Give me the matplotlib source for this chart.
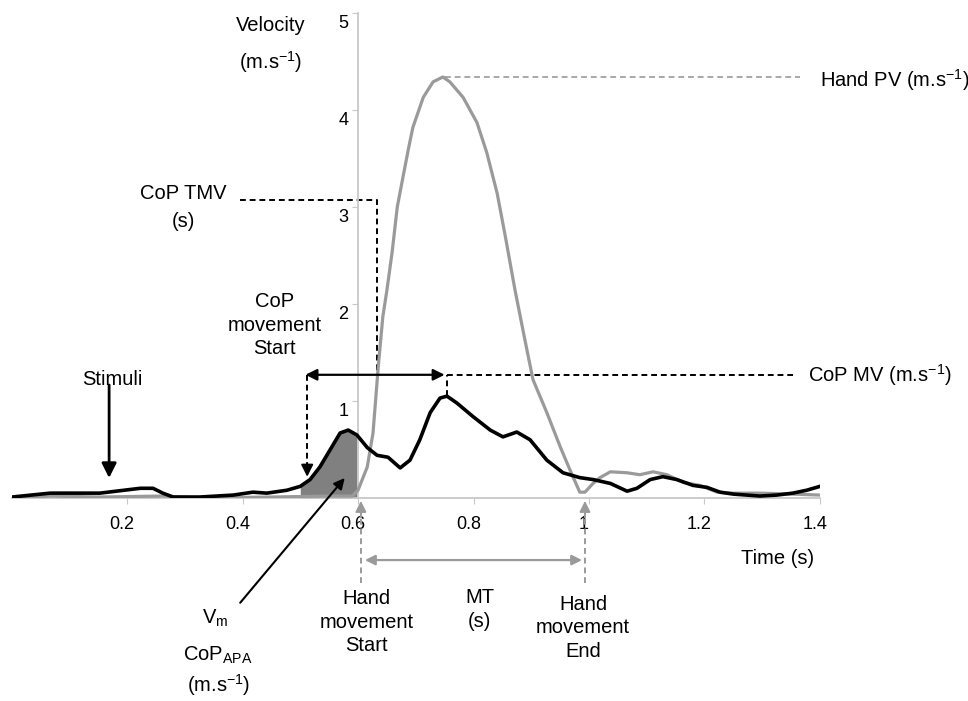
import matplotlib
matplotlib.use('Agg')

import matplotlib.pyplot as plt
from matplotlib.transforms import ScaledTranslation

plt.rcParams['font.family'] = ['Liberation Sans', 'DejaVu Sans']
plt.rcParams['mathtext.default'] = 'regular'

# CoP velocity (black)
cop_t = [0.001, 0.067, 0.153, 0.223, 0.245, 0.262, 0.280, 0.326, 0.384, 0.418,
         0.442, 0.477, 0.500, 0.517, 0.534, 0.551, 0.569, 0.583, 0.598, 0.616,
         0.633, 0.652, 0.673, 0.690, 0.707, 0.725, 0.742, 0.754, 0.771, 0.799,
         0.829, 0.851, 0.875, 0.898, 0.927, 0.955, 0.984, 1.007, 1.037, 1.066,
         1.083, 1.106, 1.128, 1.152, 1.180, 1.204, 1.227, 1.250, 1.296, 1.325,
         1.353, 1.377, 1.400]
cop_v = [0.01, 0.05, 0.05, 0.10, 0.10, 0.05, 0.01, 0.01, 0.03, 0.06,
         0.05, 0.08, 0.12, 0.19, 0.32, 0.49, 0.67, 0.70, 0.65, 0.52,
         0.44, 0.42, 0.31, 0.39, 0.60, 0.88, 1.03, 1.05, 0.98, 0.84,
         0.70, 0.63, 0.68, 0.60, 0.39, 0.26, 0.21, 0.19, 0.15, 0.07,
         0.10, 0.19, 0.22, 0.19, 0.13, 0.11, 0.06, 0.04, 0.02, 0.03,
         0.05, 0.08, 0.12]

# hand velocity (grey)
hand_t = [0.001, 0.067, 0.153, 0.260, 0.330, 0.450, 0.550, 0.590, 0.600, 0.616,
          0.626, 0.635, 0.643, 0.650, 0.659, 0.668, 0.676, 0.687, 0.695, 0.713,
          0.730, 0.747, 0.759, 0.782, 0.806, 0.823, 0.841, 0.855, 0.872, 0.889,
          0.903, 0.927, 0.950, 0.967, 0.984, 0.993, 1.007, 1.019, 1.037, 1.066,
          1.088, 1.111, 1.135, 1.163, 1.192, 1.222, 1.250, 1.296, 1.353, 1.400]
hand_v = [0.00, 0.02, 0.01, 0.02, 0.00, 0.01, 0.02, 0.02, 0.08, 0.32,
          0.67, 1.35, 1.87, 2.14, 2.53, 3.00, 3.25, 3.59, 3.82, 4.13,
          4.29, 4.34, 4.29, 4.13, 3.87, 3.56, 3.14, 2.70, 2.14, 1.63,
          1.22, 0.88, 0.53, 0.29, 0.06, 0.06, 0.15, 0.21, 0.27, 0.26,
          0.24, 0.27, 0.24, 0.16, 0.13, 0.06, 0.05, 0.05, 0.04, 0.03]

x_ticks = [0.2, 0.4, 0.6, 0.8, 1.0, 1.2, 1.4]
x_labels = ['0.2', '0.4', '0.6', '0.8', '1', '1.2', '1.4']
y_ticks = [1, 2, 3, 4, 5]

# markers
stim_t = 0.169
cop_start_t = 0.512
cop_start_v = 0.19
cop_tmv_t = 0.633
cop_tmv_level = 3.07
cop_peak_t = 0.754
cop_peak_v = 1.05
cop_mv_level = 1.27
hand_peak_t = 0.751
hand_peak_v = 4.34
hand_start_t = 0.605
hand_end_t = 0.993
apa_from, apa_to = 0.485, 0.60

BLACK = 'black'
GREY = '#9a9a9a'
AXIS = '#c8c8c8'
FS = 14.5

fig = plt.figure(figsize=(9.68, 7.01), dpi=100)
ax = fig.add_axes([0.0119, 0.2896, 0.8352, 0.6919])
ax.set_xlim(0, 1.4)
ax.set_ylim(0, 5)

for s in ('top', 'right'):
    ax.spines[s].set_visible(False)
ax.spines['left'].set_position(('data', 0.6))
ax.spines['bottom'].set_position(('data', 0))
for s in ('left', 'bottom'):
    ax.spines[s].set_color(AXIS)
    ax.spines[s].set_linewidth(1.3)

ax.set_xticks(x_ticks)
ax.set_xticklabels(x_labels)
ax.set_yticks(y_ticks)
ax.tick_params(axis='x', length=4, color=AXIS, labelsize=13, pad=9)
ax.tick_params(axis='y', length=4, color=AXIS, labelsize=13, pad=3)
for lab in ax.get_yticklabels():
    lab.set_transform(lab.get_transform() +
                      ScaledTranslation(0, -9 / 100, fig.dpi_scale_trans))
for lab in ax.get_xticklabels():
    lab.set_transform(lab.get_transform() +
                      ScaledTranslation(-5 / 100, 0, fig.dpi_scale_trans))

# APA shaded area under the CoP curve
ax.fill_between(cop_t, 0, cop_v,
                where=[apa_from <= t <= apa_to for t in cop_t],
                color='#808080', lw=0, zorder=1)

ax.plot(hand_t, hand_v, color=GREY, lw=2.3, zorder=3)
ax.plot(cop_t, cop_v, color=BLACK, lw=2.6, zorder=4)

# dashed guides
dash = dict(ls=(0, (3, 2)), lw=1.4, clip_on=False)
ax.plot([hand_peak_t, 1.365], [hand_peak_v, hand_peak_v], color='#a8a8a8', **dash)
ax.plot([cop_peak_t, cop_peak_t], [cop_peak_v, cop_mv_level], color=BLACK, **dash)
ax.plot([cop_peak_t, 1.353], [cop_mv_level, cop_mv_level], color=BLACK, **dash)
ax.plot([0.396, cop_tmv_t, cop_tmv_t], [cop_tmv_level, cop_tmv_level, cop_mv_level],
        color=BLACK, **dash)
ax.plot([cop_start_t, cop_start_t], [cop_mv_level, cop_start_v + 0.15],
        color=BLACK, **dash)
ax.annotate('', xy=(cop_start_t, cop_start_v), xytext=(cop_start_t, cop_start_v + 0.2),
            arrowprops=dict(arrowstyle='-|>', color=BLACK, lw=1.4, mutation_scale=18))

# CoP start -> CoP peak
ax.annotate('', xy=(cop_start_t - 0.003, cop_mv_level), xytext=(cop_peak_t - 0.004, cop_mv_level),
            arrowprops=dict(arrowstyle='<|-|>', color=BLACK, lw=1.6, mutation_scale=17,
                            shrinkA=0, shrinkB=0))

# stimulus arrow
ax.annotate('', xy=(stim_t, 0.206), xytext=(stim_t, 1.165),
            arrowprops=dict(arrowstyle='-|>', color=BLACK, lw=2.0, mutation_scale=22,
                            shrinkA=0, shrinkB=0))

# Vm CoP APA pointer
ax.annotate('', xy=(0.577, 0.206), xytext=(0.396, -1.08), annotation_clip=False,
            arrowprops=dict(arrowstyle='-|>', color=BLACK, lw=1.5, mutation_scale=16,
                            shrinkA=0, shrinkB=0))

# hand start / end markers below the axis
for t in (hand_start_t, hand_end_t):
    ax.plot([t, t], [-0.88, -0.12], color=GREY, **dash)
    ax.annotate('', xy=(t, -0.03), xytext=(t, -0.2), annotation_clip=False,
                arrowprops=dict(arrowstyle='-|>', color=GREY, lw=1.4, mutation_scale=16,
                                shrinkA=0, shrinkB=0))
ax.annotate('', xy=(0.612, -0.64), xytext=(0.988, -0.64), annotation_clip=False,
            arrowprops=dict(arrowstyle='<|-|>', color=GREY, lw=1.6, mutation_scale=15,
                            shrinkA=0, shrinkB=0))

# labels
txt = dict(fontsize=FS, ha='center', va='center', linespacing=1.3, clip_on=False)
ax.text(0.448, 4.87, 'Velocity', **txt)
ax.text(0.448, 4.49, '(m.s$^{-1}$)', **txt)
ax.text(0.298, 3.14, 'CoP TMV', **txt)
ax.text(0.297, 2.85, '(s)', **txt)
ax.text(0.456, 1.78, 'CoP\nmovement\nStart', **txt)
ax.text(0.174, 1.22, 'Stimuli', **txt)
ax.text(1.379, cop_mv_level, 'CoP MV (m.s$^{-1}$)', fontsize=FS, ha='left', va='center')
ax.text(1.400, 4.31, 'Hand PV (m.s$^{-1}$)', fontsize=FS, ha='left', va='center')
ax.text(1.327, -0.62, 'Time (s)', **txt)
ax.text(0.615, -1.28, 'Hand\nmovement\nStart', **txt)
ax.text(0.811, -1.15, 'MT\n(s)', **txt)
ax.text(0.990, -1.34, 'Hand\nmovement\nEnd', **txt)
ax.text(0.352, -1.24, 'V$_{m}$', **txt)
ax.text(0.358, -1.62, 'CoP$_{APA}$', **txt)
ax.text(0.358, -1.93, '(m.s$^{-1}$)', **txt)

plt.savefig('out.png', dpi=100)
plt.close()
